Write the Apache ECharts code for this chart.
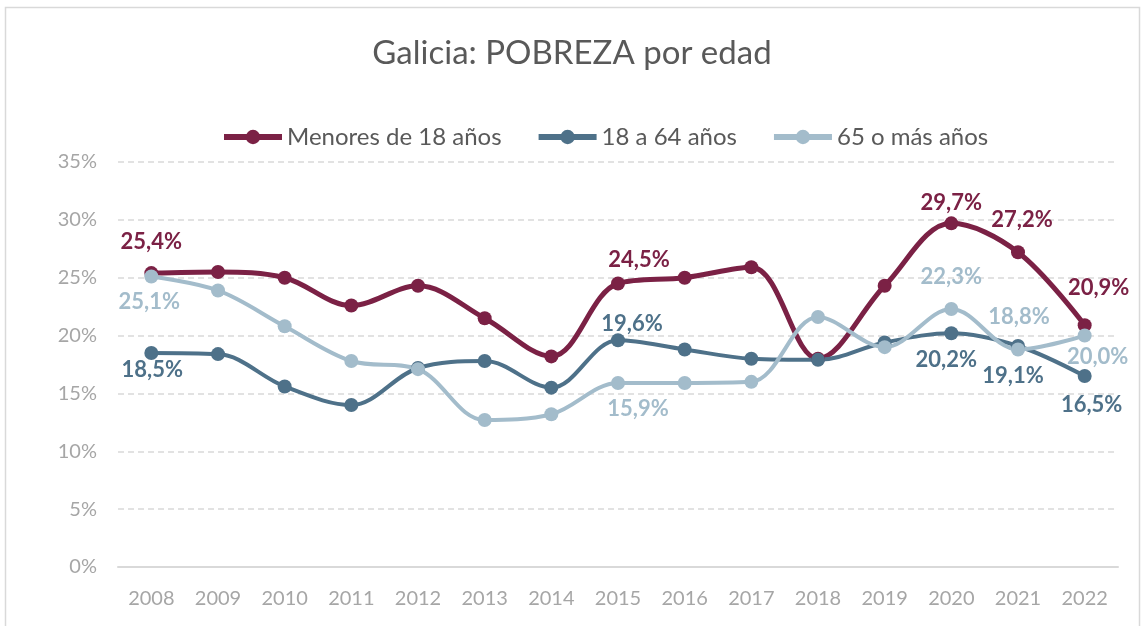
<!DOCTYPE html>
<html><head><meta charset="utf-8">
<script src="https://cdn.jsdelivr.net/npm/echarts@6/dist/echarts.min.js"></script>
<style>html,body{margin:0;padding:0;background:#fff}#c{width:1144px;height:626px}</style>
</head><body><div id="c"></div>
<script>
const years = ['2008','2009','2010','2011','2012','2013','2014','2015','2016','2017','2018','2019','2020','2021','2022'];
const menores = [25.4,25.5,25.0,22.6,24.3,21.5,18.2,24.5,25.0,25.9,18.0,24.3,29.7,27.2,20.9];
const adultos = [18.5,18.4,15.6,14.0,17.2,17.8,15.5,19.6,18.8,18.0,17.9,19.4,20.2,19.1,16.5];
const mayores = [25.1,23.9,20.8,17.8,17.1,12.7,13.2,15.9,15.9,16.0,21.6,19.0,22.3,18.8,20.0];
const seriesNames = ['Menores de 18 años','18 a 64 años','65 o más años'];
const yTicks = [0,5,10,15,20,25,30,35];

// label placement (style only): index -> [position, dx, dy]
const labelsMenores = {0:['top',0,-8],7:['top',21,-1],12:['top',0,3],13:['top',4,-9],14:['top',14,-14]};
const labelsAdultos = {0:['bottom',1,-6],7:['top',14,7],12:['bottom',-5,4],13:['bottom',-5,7],14:['bottom',7,6]};
const labelsMayores = {0:['bottom',-2,2],7:['bottom',20,3],12:['top',0,-9],13:['top',1,-10],14:['bottom',13,-2]};

const colors = ['#7B2145','#4E7189','#A3BCCB'];
const FONT = 'Lato, "Open Sans", sans-serif';

function build(vals, labs, color){
  return vals.map((v,i)=>{
    const d = {value:v};
    if (labs[i]) {
      d.label = {show:true, position:labs[i][0], offset:[labs[i][1],labs[i][2]],
        formatter: v.toFixed(1).replace('.',',')+'%', color:color, fontSize:22, fontWeight:'bold', fontFamily:FONT};
    }
    return d;
  });
}

const chart = echarts.init(document.getElementById('c'));
const mk = (name, vals, labs, color, w) => ({
  name, type:'line', smooth:0.35, data: build(vals, labs, color),
  symbol:'circle', symbolSize:14, lineStyle:{width:w, color}, itemStyle:{color},
  label:{show:false}, z: 3
});
chart.setOption({
  animation:false,
  color: colors,
  title:{text:'Galicia: POBREZA por edad', left:'center', top:32,
    textStyle:{fontSize:33, fontWeight:'normal', color:'#595959', fontFamily:FONT}},
  legend:{data:seriesNames, top:120, left:216, itemWidth:58, itemHeight:18, itemGap:34,
    lineStyle:{width:6},
    textStyle:{fontSize:24, color:'#595959', fontFamily:FONT}},
  grid:{left:118, right:26, top:162, bottom:59},
  xAxis:{type:'category', data:years, boundaryGap:true,
    axisLine:{lineStyle:{color:'#d9d9d9', width:2}}, axisTick:{show:false},
    axisLabel:{color:'#a6a6a6', fontSize:20, margin:22, fontFamily:FONT}},
  yAxis:{type:'value', min:yTicks[0], max:yTicks[yTicks.length-1], interval:5,
    axisLine:{show:false}, axisTick:{show:false},
    axisLabel:{color:'#a6a6a6', fontSize:20, margin:21, fontFamily:FONT, formatter:v=>v+'%'},
    splitLine:{lineStyle:{color:'#d9d9d9', type:[6,4], width:1.5}}},
  graphic:[{type:'rect', shape:{x:5.5,y:7.5,width:1134,height:630}, style:{fill:'none', stroke:'#d9d9d9', lineWidth:1.5}, silent:true}],
  series:[
    mk(seriesNames[0], menores, labelsMenores, colors[0], 5),
    mk(seriesNames[1], adultos, labelsAdultos, colors[1], 4),
    mk(seriesNames[2], mayores, labelsMayores, colors[2], 4)
  ]
});
</script></body></html>
